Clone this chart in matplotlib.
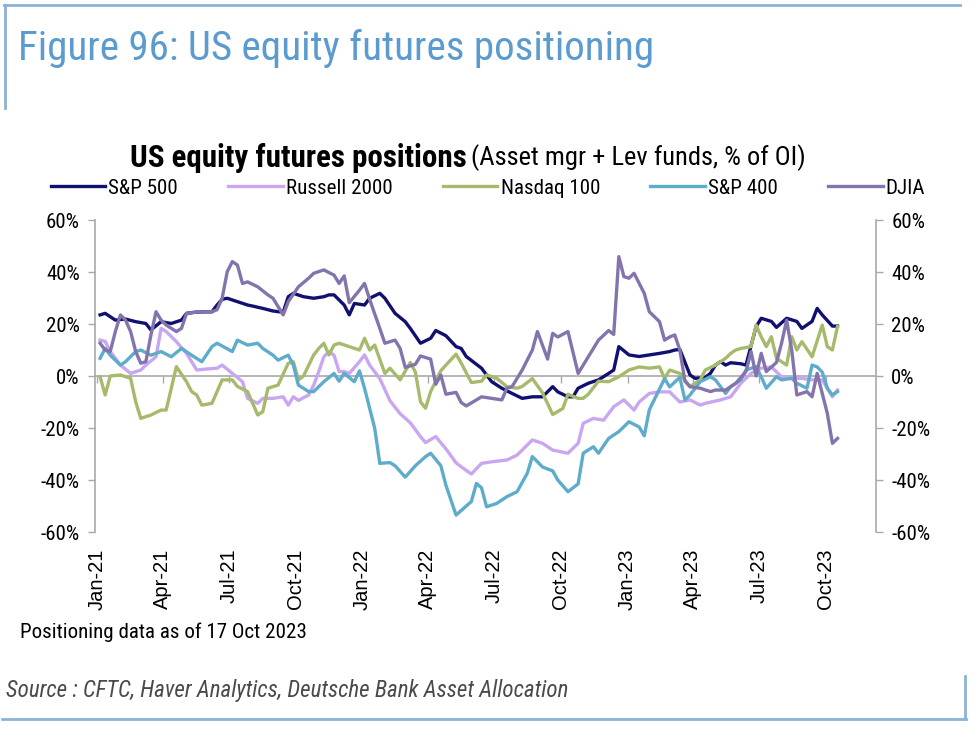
import matplotlib
matplotlib.use('Agg')
import matplotlib.pyplot as plt
import matplotlib.dates as mdates
from matplotlib import font_manager as fm
from matplotlib.lines import Line2D
import numpy as np
import pandas as pd

# ---------------- data (weekly CFTC positioning, weeks since 5 Jan 2021) ----------------
START = '2021-01-05'

sp500_wk = [0,1,2,3,5,7,9,10,12,14,16,17,19,22,23,24,25,27,29,30,32,34,36,37,38,40,42,44,45,46,
            48,49,50,52,53,55,56,58,60,61,63,65,66,68,70,71,72,75,77,79,81,83,85,87,89,90,92,93,94,96,
            98,100,101,102,104,106,108,110,112,113,114,116,117,119,120,121,122,123,124,126,
            127,129,130,132,133,135,137,138,140,141,142,144,145]
sp500_val = [23.5,24.1,22.8,21.5,21.9,20.9,20.2,17.7,20.9,20.2,21.5,24.1,24.6,24.7,27.3,29.5,29.9,28.6,27.3,26.9,
             26.0,25.0,24.5,30.5,31.8,30.5,29.9,30.5,31.2,31.2,27.3,23.5,27.9,27.3,29.9,31.8,29.9,24.1,20.9,18.3,
             12.6,14.5,17.5,15.5,11.3,10.6,7.5,3.0,-2.2,-4.7,-6.7,-8.6,-8.0,-8.0,-4.1,-6.1,-8.0,-8.0,-4.7,-2.8,
             -1.5,1.0,2.3,11.3,8.1,7.5,8.1,8.7,9.4,10.0,10.2,0.4,-0.9,-0.5,1.0,4.2,5.5,4.2,5.1,4.7,
             4.2,19.0,22.2,21.0,18.7,22.2,21.0,18.3,21.0,26.0,23.5,19.2,19.2]

r2k_wk = [0,1,2,4,6,8,9,11,12,13,15,17,18,19,21,23,24,26,28,29,31,32,34,36,37,38,39,41,42,43,
          44,45,46,47,48,49,51,52,53,55,57,59,61,63,64,66,68,70,71,73,75,77,80,82,85,87,89,92,94,95,
          97,99,101,103,105,106,108,110,112,114,116,118,119,122,124,126,128,130,132,134,136,138,140,142,144,145]
r2k_val = [13.8,13.3,9.4,4.2,1.0,2.3,4.2,7.4,18.3,17.1,13.2,8.7,5.5,2.3,2.7,3.0,4.2,1.0,-2.2,-8.6,
           -10.5,-8.6,-8.6,-8.0,-11.2,-8.0,-9.4,-7.3,-3.5,1.7,7.4,9.4,8.0,1.7,1.7,1.0,5.5,8.1,4.2,-1.0,
           -9.5,-14.5,-18.0,-23.3,-25.6,-23.3,-28.0,-33.4,-34.9,-37.7,-33.6,-33.0,-32.3,-30.4,-24.6,-25.9,-28.5,-29.7,-25.9,-18.2,
           -16.3,-17.0,-11.8,-9.2,-13.1,-10.0,-6.7,-6.1,-6.1,-10.0,-9.2,-11.2,-10.5,-9.2,-8.0,-2.8,1.0,3.0,3.5,-0.3,
           -0.9,-0.9,-1.5,-1.5,-8.0,-5.4]

ndx_wk = [0,1,2,4,6,7,8,10,12,13,14,15,17,18,19,20,22,23,24,26,27,29,31,32,33,35,37,38,39,40,
          42,43,44,45,46,47,49,51,52,53,54,56,57,59,61,62,63,64,65,67,68,70,71,73,75,76,78,80,82,83,
          85,87,89,91,92,94,95,96,98,100,102,104,106,108,110,111,112,114,116,118,119,121,123,124,125,126,
          128,129,130,131,132,133,135,136,137,138,140,142,143,144,145]
ndx_val = [-0.3,-7.3,0.0,0.4,-0.9,-9.9,-16.3,-15.0,-13.1,-13.1,-4.7,3.6,-2.2,-6.0,-7.3,-11.2,-10.5,-6.0,-1.5,-1.5,
           -4.0,-6.0,-15.0,-13.7,-4.7,-3.5,4.9,5.5,-1.5,0.0,8.1,10.6,12.6,8.1,11.9,12.6,11.3,10.0,14.5,10.0,
           11.9,1.0,3.0,-1.5,5.2,1.5,-9.9,-12.4,-6.0,2.0,4.2,8.4,5.0,-2.5,-2.0,0.4,-0.9,-4.1,-4.7,-4.0,
           -1.0,-6.5,-14.8,-12.5,-7.0,-8.6,-8.6,-7.0,-2.0,-2.2,-0.3,2.3,3.5,3.0,3.5,-0.9,2.3,1.0,-4.1,-1.5,
           2.3,4.2,6.8,8.7,10.0,10.6,11.3,19.6,15.1,11.3,15.1,6.8,4.2,15.1,10.0,13.2,7.4,19.6,11.3,10.0,19.0]

mid_wk = [0,1,2,4,5,7,8,10,12,14,16,18,20,22,23,26,27,29,31,32,34,35,37,38,39,41,42,44,46,47,
          48,50,51,52,54,55,57,58,60,62,64,65,67,68,70,72,73,74,75,76,78,80,82,84,85,87,89,90,92,94,
          95,97,98,100,102,104,106,107,108,110,111,112,114,115,116,118,120,121,123,124,
          126,127,129,130,131,133,134,136,137,139,140,141,142,143,144,145]
mid_val = [6.8,10.6,8.0,4.2,5.5,9.4,10.0,8.0,9.4,7.4,10.6,8.0,5.5,11.3,12.6,9.4,13.8,11.9,12.6,10.6,
           8.0,6.1,8.0,4.2,-3.5,-6.0,-6.0,-2.2,1.0,-2.0,1.0,-2.2,2.0,-4.7,-20.1,-33.6,-33.3,-34.5,-38.9,-34.5,
           -31.0,-29.7,-34.5,-42.0,-53.5,-50.0,-48.3,-41.3,-43.0,-50.3,-49.0,-46.4,-44.5,-37.4,-31.0,-35.0,-36.5,-40.0,-44.5,-41.5,
           -29.7,-27.2,-29.7,-24.0,-21.4,-17.6,-19.6,-23.0,-13.0,-5.0,-1.0,-4.2,-0.5,-9.2,-7.3,-2.2,-0.3,-1.5,-6.7,-4.1,
           -1.5,2.3,3.6,-0.3,-4.7,-0.3,-1.5,-0.9,-2.8,-4.7,4.2,3.5,1.5,-4.7,-7.3,-6.0]

dji_wk = [0,1,2,3,4,5,6,7,8,9,10,11,12,13,15,16,17,19,22,23,24,25,26,27,28,29,31,33,34,35,
          36,37,39,41,42,44,46,47,48,49,51,52,53,55,56,58,59,60,62,63,65,66,67,68,70,71,72,74,75,77,
          79,80,81,83,85,86,88,89,90,92,94,96,98,100,101,102,103,104,105,107,108,109,110,111,112,113,114,115,116,118,
          120,121,123,125,127,128,129,130,131,133,134,135,136,137,139,140,141,143,144,145]
dji_val = [12.6,10.0,9.4,17.1,23.5,21.5,17.1,9.4,4.9,5.5,15.8,24.7,21.5,19.6,17.1,18.3,24.1,24.6,24.7,25.5,
           29.9,40.1,44.0,42.7,35.6,36.2,34.3,31.2,29.9,26.7,23.5,28.6,34.3,37.6,39.5,40.8,38.8,35.6,38.5,28.2,
           33.0,35.6,29.5,18.3,12.6,13.8,10.6,3.3,4.5,7.7,6.5,-3.2,0.4,-7.0,-6.3,-10.2,-11.5,-9.2,-8.0,-8.6,
           -9.2,-4.7,-4.1,2.3,10.0,17.1,6.5,16.4,15.0,17.1,1.0,7.4,13.8,17.5,16.0,45.9,38.2,37.6,39.5,31.8,
           24.7,22.8,20.9,13.8,15.0,15.8,10.0,-2.0,-4.1,-4.7,-6.0,-5.4,-5.4,-2.8,1.7,9.4,0.0,8.7,1.7,5.2,
           12.6,21.5,10.0,-7.3,-6.0,-8.0,1.0,-14.4,-25.9,-24.0]

series_names = ['S&P 500', 'Russell 2000', 'Nasdaq 100', 'S&P 400', 'DJIA']
series_colors = ['#101070', '#c9a6f2', '#a6ba6c', '#5eaccb', '#8474ae']

yticks = [-60, -40, -20, 0, 20, 40, 60]
ytick_labels = ['-60%', '-40%', '-20%', '0%', '20%', '40%', '60%']

title_text = 'Figure 96: US equity futures positioning'
chart_title_bold = 'US equity futures positions'
chart_title_rest = '(Asset mgr + Lev funds, % of OI)'
note_text = 'Positioning data as of 17 Oct 2023'
source_text = 'Source : CFTC, Haver Analytics, Deutsche Bank Asset Allocation'

# ---------------- fonts ----------------
avail = {f.name for f in fm.fontManager.ttflist}
narrow = next((n for n in ['Liberation Sans Narrow', 'Arial Narrow', 'DejaVu Sans Condensed',
                           'Roboto Condensed', 'Open Sans Condensed'] if n in avail), 'Liberation Sans')
plt.rcParams['font.family'] = ['Liberation Sans', 'DejaVu Sans']
NARROW = [narrow, 'Liberation Sans', 'DejaVu Sans']

W, H = 972, 732
fig = plt.figure(figsize=(W / 100, H / 100), dpi=100)
fig.patch.set_facecolor('white')

def fx(x):
    return x / W

def fy(y):
    return 1 - y / H

ax = fig.add_axes([fx(95), fy(532), fx(876) - fx(95), fy(220) - fy(532)])

start = pd.Timestamp(START)
def to_dates(wk):
    return start + pd.to_timedelta(np.asarray(wk) * 7, unit='D')

all_wk = [sp500_wk, r2k_wk, ndx_wk, mid_wk, dji_wk]
all_val = [sp500_val, r2k_val, ndx_val, mid_val, dji_val]

ax.axhline(0, color='#a9a9a9', lw=1.2, zorder=1)
handles = []
for wk, val, name, col in zip(all_wk, all_val, series_names, series_colors):
    h, = ax.plot(to_dates(wk), val, color=col, lw=2.4, label=name, zorder=3,
                 solid_joinstyle='round')
    handles.append(h)

ax.set_ylim(-60, 60)
ax.set_xlim(start - pd.Timedelta(days=7), start + pd.Timedelta(days=1068))

ax.set_yticks(yticks)
ax.set_yticklabels(ytick_labels)
ax.tick_params(axis='y', which='both', left=True, right=True, labelleft=True, labelright=True,
               direction='out', length=5, width=1, color='#a9a9a9', labelsize=13, pad=6)
for lab in ax.get_yticklabels():
    lab.set_family(NARROW)
    lab.set_fontsize(15)

qdates = pd.date_range('2021-01-01', '2023-10-01', freq='QS')
ax.set_xticks(qdates)
ax.xaxis.set_major_formatter(mdates.DateFormatter('%b-%y'))
ax.tick_params(axis='x', length=0, labelsize=14.5, pad=12)
for lab in ax.get_xticklabels():
    lab.set_rotation(90)
    lab.set_va('top')
    lab.set_ha('center')

for s in ['top', 'bottom']:
    ax.spines[s].set_visible(False)
for s in ['left', 'right']:
    ax.spines[s].set_color('#a9a9a9')
    ax.spines[s].set_linewidth(1.2)

# small tick marks on the zero line
sec = ax.secondary_xaxis(0.5)
sec.set_alignment('bottom')
sec.set_xticks(qdates)
sec.tick_params(axis='x', direction='out', length=5, width=1, color='#a9a9a9', labelbottom=False)
for s in sec.spines.values():
    s.set_visible(False)

# ---------------- texts ----------------
def fit_width(t, width_px):
    fig.canvas.draw()
    r = fig.canvas.get_renderer()
    w = t.get_window_extent(r).width
    t.set_fontsize(t.get_fontsize() * width_px / w)

t1 = fig.text(fx(18), fy(48), title_text, color='#5b9bcf', fontsize=24, family=NARROW,
              ha='left', va='center')
fit_width(t1, 637)

t2 = fig.text(fx(130), fy(158), chart_title_bold, color='black', fontsize=16, family=NARROW,
              weight='bold', ha='left', va='center')
fit_width(t2, 336)
t3 = fig.text(fx(471), fy(158), chart_title_rest, color='black', fontsize=14, family=NARROW,
              ha='left', va='center')
fit_width(t3, 337)

t4 = fig.text(fx(20), fy(632), note_text, color='black', fontsize=12, family=NARROW,
              ha='left', va='center')
fit_width(t4, 287)

t5 = fig.text(fx(6), fy(691), source_text, color='#4a4a4a', fontsize=13, family=NARROW,
              style='italic', ha='left', va='center')
fit_width(t5, 561)

# legend
def make_legend(fs):
    return fig.legend(handles, series_names, loc='center', bbox_to_anchor=(fx(488), fy(188)),
                      ncol=5, frameon=False, handlelength=2.6, handletextpad=0.15,
                      columnspacing=2.4, borderpad=0, borderaxespad=0,
                      prop={'family': NARROW, 'size': fs})

leg = make_legend(15)
fig.canvas.draw()
wl = leg.get_window_extent(fig.canvas.get_renderer()).width
leg.remove()
leg = make_legend(15 * 873 / wl)

# ---------------- frame lines ----------------
frame_col = '#8cb3d6'
fig.add_artist(Line2D([fx(4), fx(960)], [fy(5), fy(5)], color=frame_col, lw=2))
fig.add_artist(Line2D([fx(5), fx(5)], [fy(5), fy(108)], color=frame_col, lw=2))
fig.add_artist(Line2D([fx(2), fx(966)], [fy(719), fy(719)], color=frame_col, lw=2))
fig.add_artist(Line2D([fx(965), fx(965)], [fy(676), fy(719)], color=frame_col, lw=2))

fig.savefig('out.png', dpi=100, facecolor='white')
